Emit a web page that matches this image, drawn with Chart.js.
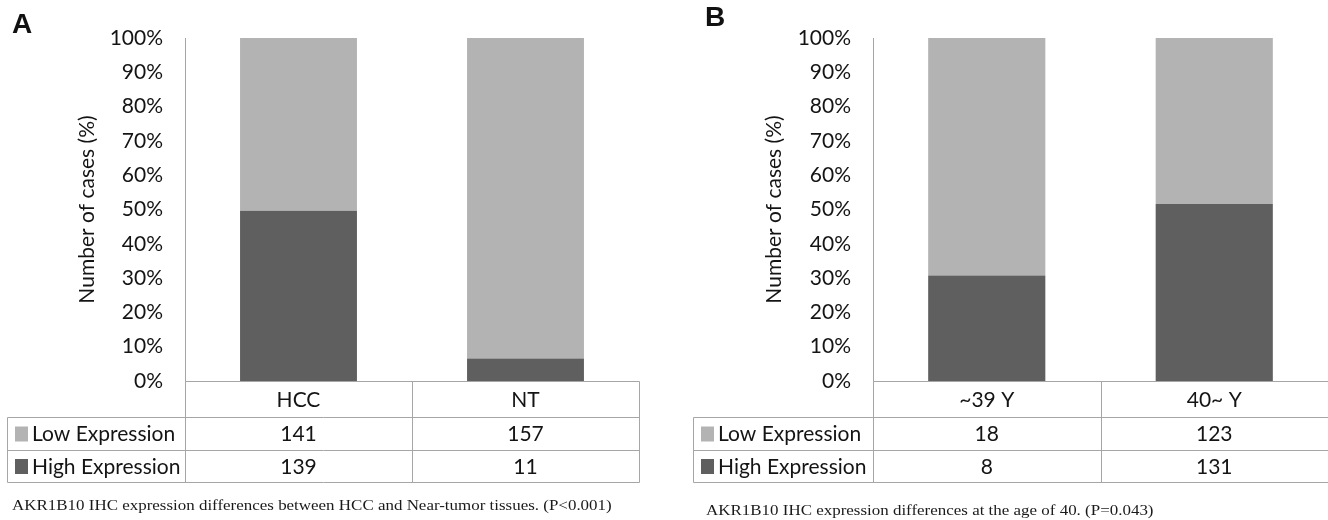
<!DOCTYPE html>
<html>
<head>
<meta charset="utf-8">
<script src="https://cdn.jsdelivr.net/npm/chart.js@4.4.1/dist/chart.umd.min.js"></script>
<style>
  html, body { margin: 0; padding: 0; background: #fff; }
  #wrap { position: relative; width: 1328px; height: 520px; overflow: hidden; }
  .panel { position: absolute; top: 0; width: 664px; height: 520px; }
  .letter { position: absolute; font: bold 28px "Liberation Sans", Arial, sans-serif; color: #111; }
  .caption { position: absolute; font: 15px "Liberation Serif", "Times New Roman", serif; color: #1a1a1a;
             white-space: nowrap; transform: scaleX(1.13); transform-origin: 0 0; }
</style>
</head>
<body>
<div id="wrap">
  <div class="panel" style="left:0"><canvas id="chartA" width="664" height="520"></canvas></div>
  <div class="panel" style="left:664px"><canvas id="chartB" width="664" height="520"></canvas></div>
  <div class="letter" style="left:12px;top:8px">A</div>
  <div class="letter" style="left:705px;top:1px">B</div>
  <div class="caption" style="left:12px;top:497px">AKR1B10 IHC expression differences between HCC and Near-tumor tissues. (P&lt;0.001)</div>
  <div class="caption" style="left:706px;top:502px">AKR1B10 IHC expression differences at the age of 40. (P=0.043)</div>
</div>
<script>
// ── data (case counts per group) ──
const groupsA = ['HCC', 'NT'];
const lowA = [141, 157];
const highA = [139, 11];

const groupsB = ['~39 Y', '40~ Y'];
const lowB = [18, 123];
const highB = [8, 131];

const seriesNames = ['Low Expression', 'High Expression'];
const yTickStep = 10;

const LIGHT = '#b3b3b3';
const DARK = '#5f5f5f';
const LINE = '#a6a6a6';
const TEXT = '#141414';
const FONT = 'Lato, "Open Sans", sans-serif';

const pct = (part, other) => part.map((v, i) => v / (v + other[i]) * 100);

// draws the data table under the plot, columns follow the x scale
const tablePlugin = {
  id: 'dataTable',
  afterDraw(chart, args, opts) {
    const { ctx, chartArea: area, scales: { x } } = chart;
    const n = chart.data.labels.length;
    const edges = [area.left];
    for (let i = 0; i < n - 1; i++) {
      edges.push((x.getPixelForValue(i) + x.getPixelForValue(i + 1)) / 2);
    }
    edges.push(area.right);
    const y0 = area.bottom, y1 = y0 + 36, y2 = y1 + 33, y3 = y2 + 32;
    const L = opts.left;

    ctx.save();
    ctx.strokeStyle = LINE;
    ctx.lineWidth = 1;
    const line = (ax, ay, bx, by) => {
      ctx.beginPath();
      ctx.moveTo(Math.round(ax) + 0.5, Math.round(ay) + 0.5);
      ctx.lineTo(Math.round(bx) + 0.5, Math.round(by) + 0.5);
      ctx.stroke();
    };
    line(area.left, y0, area.right, y0);
    [y1, y2, y3].forEach(yy => line(L, yy, area.right, yy));
    line(L, y1, L, y3);
    edges.forEach(ex => line(ex, y0, ex, y3));

    ctx.fillStyle = TEXT;
    ctx.font = '21px ' + FONT;
    ctx.textBaseline = 'middle';
    ctx.textAlign = 'center';
    chart.data.labels.forEach((lab, i) => {
      const cx = x.getPixelForValue(i);
      ctx.fillText(lab, cx, (y0 + y1) / 2 + 1);
      ctx.fillText(String(opts.low[i]), cx, (y1 + y2) / 2 + 1);
      ctx.fillText(String(opts.high[i]), cx, (y2 + y3) / 2 + 1);
    });

    // row headers with legend swatches
    const rows = [[y1, y2, LIGHT, seriesNames[0]], [y2, y3, DARK, seriesNames[1]]];
    rows.forEach(([ta, tb, col, name]) => {
      const my = (ta + tb) / 2;
      ctx.fillStyle = col;
      ctx.fillRect(L + 8, my - 7, 13, 15);
      ctx.fillStyle = TEXT;
      ctx.textAlign = 'left';
      ctx.fillText(name, L + 25, my + 1);
    });
    ctx.restore();
  }
};

function makeChart(id, labels, low, high, cfg) {
  return new Chart(document.getElementById(id), {
    type: 'bar',
    data: {
      labels: labels,
      datasets: [
        { label: seriesNames[1], data: pct(high, low), backgroundColor: DARK },
        { label: seriesNames[0], data: pct(low, high), backgroundColor: LIGHT },
      ],
    },
    options: {
      responsive: false,
      animation: false,
      layout: { padding: { left: 0, right: cfg.right, top: 38, bottom: 139 } },
      datasets: { bar: { barPercentage: 0.515, categoryPercentage: 1 } },
      plugins: {
        legend: { display: false },
        tooltip: { enabled: false },
        dataTable: { left: cfg.tableLeft, low: low, high: high },
      },
      scales: {
        x: { stacked: true, display: false },
        y: {
          stacked: true,
          min: 0,
          max: 100,
          afterFit(scale) { scale.width = cfg.axisX; },
          border: { display: true, color: LINE, width: 1 },
          grid: { display: false, drawTicks: false },
          ticks: {
            stepSize: yTickStep,
            padding: 22,
            color: TEXT,
            font: { family: FONT, size: 21 },
            callback: (v) => v + '%',
          },
          title: {
            display: true,
            text: 'Number of cases (%)',
            color: TEXT,
            font: { family: FONT, size: 21 },
            padding: { top: cfg.titleX - 12, bottom: 0 },
          },
        },
      },
    },
    plugins: [tablePlugin],
  });
}

makeChart('chartA', groupsA, lowA, highA, { axisX: 185, right: 25, tableLeft: 7, titleX: 87 });
makeChart('chartB', groupsB, lowB, highB, { axisX: 209, right: 0, tableLeft: 29, titleX: 110 });
</script>
</body>
</html>
